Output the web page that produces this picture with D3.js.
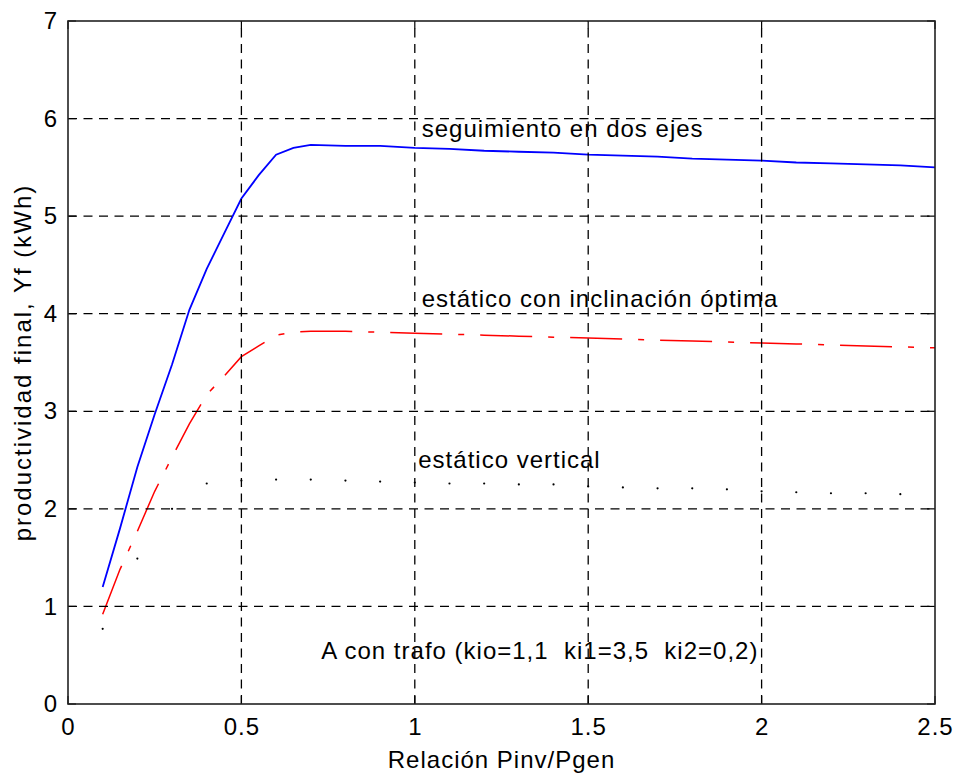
<!DOCTYPE html>
<html>
<head>
<meta charset="utf-8">
<script src="https://cdn.jsdelivr.net/npm/d3@7"></script>
<style>
  body { margin: 0; background: #fff; }
  svg { display: block; }
  text { font-family: "Liberation Sans", Arial, Helvetica, sans-serif; fill: #000; letter-spacing: 1px; }
</style>
</head>
<body>
<svg id="chart" width="956" height="775"></svg>
<script>
// relación Pinv/Pgen (x) for the two continuous curves
const relacion = [0.1, 0.15, 0.2, 0.25, 0.3, 0.35, 0.4, 0.45, 0.5, 0.55, 0.6, 0.65, 0.7,
  0.8, 0.9, 1.0, 1.1, 1.2, 1.3, 1.4, 1.5, 1.6, 1.7, 1.8, 1.9, 2.0, 2.1, 2.2, 2.3, 2.4, 2.5];
// seguimiento en dos ejes (blue)
const dosEjes = [1.2, 1.8, 2.43, 2.97, 3.48, 4.04, 4.46, 4.82, 5.18, 5.42, 5.63, 5.70, 5.73,
  5.72, 5.72, 5.70, 5.69, 5.67, 5.66, 5.65, 5.63, 5.62, 5.61, 5.59, 5.58, 5.57, 5.55, 5.54, 5.53, 5.52, 5.50];
// estático con inclinación óptima (red, dash-dot)
const inclOptima = [0.92, 1.38, 1.77, 2.18, 2.53, 2.87, 3.17, 3.36, 3.56, 3.67, 3.78, 3.81, 3.82,
  3.82, 3.81, 3.80, 3.79, 3.78, 3.77, 3.76, 3.75, 3.74, 3.73, 3.72, 3.71, 3.70, 3.69, 3.68, 3.67, 3.66, 3.65];
// estático vertical (black dots)
const relacionVert = [0.1, 0.2, 0.3, 0.4, 0.5, 0.6, 0.7, 0.8, 0.9, 1.0, 1.1, 1.2, 1.3, 1.4,
  1.5, 1.6, 1.7, 1.8, 1.9, 2.0, 2.1, 2.2, 2.3, 2.4];
const vertical = [0.77, 1.49, 2.0, 2.26, 2.29, 2.30, 2.30, 2.29, 2.28, 2.27, 2.26, 2.26, 2.25, 2.25,
  2.23, 2.22, 2.21, 2.21, 2.20, 2.18, 2.17, 2.16, 2.16, 2.15];

const xTicks = [0, 0.5, 1, 1.5, 2, 2.5];
const yTicks = [0, 1, 2, 3, 4, 5, 6, 7];

const notes = ["seguimiento en dos ejes", "estático con inclinación óptima", "estático vertical",
  "A con trafo (kio=1,1  ki1=3,5  ki2=0,2)"];
const noteX = [1.02, 1.02, 1.01, 0.73];
const noteY = [5.9, 4.16, 2.5, 0.55];

const svg = d3.select("#chart");
const x = d3.scaleLinear().domain([0, 2.5]).range([68, 935]);
const y = d3.scaleLinear().domain([0, 7]).range([704, 21]);

const line = d3.line().x(d => x(d[0])).y(d => y(d[1]));

// data
svg.append("path")
  .datum(relacion.map((v, i) => [v, dosEjes[i]]))
  .attr("fill", "none").attr("stroke", "#0000ff").attr("stroke-width", 1.8)
  .attr("d", line);

svg.append("path")
  .datum(relacion.map((v, i) => [v, inclOptima[i]]))
  .attr("fill", "none").attr("stroke", "#ff0000").attr("stroke-width", 1.5)
  .attr("stroke-dasharray", "52,16,6,16")
  .attr("d", line);

svg.append("g").selectAll("circle")
  .data(relacionVert.map((v, i) => [v, vertical[i]]))
  .join("circle")
  .attr("cx", d => x(d[0])).attr("cy", d => y(d[1]))
  .attr("r", 1.1).attr("fill", "#000");

// annotations
svg.append("g").selectAll("text")
  .data(notes)
  .join("text")
  .attr("x", (d, i) => x(noteX[i]))
  .attr("y", (d, i) => y(noteY[i]))
  .attr("dy", "0.35em")
  .attr("font-size", 24)
  .style("white-space", "pre")
  .text(d => d);

// grid (drawn over the data, like the original)
const grid = svg.append("g").attr("stroke", "#000").attr("stroke-width", 1.3)
  .attr("stroke-dasharray", "9,6.5");
grid.selectAll(".gx").data(xTicks.slice(1, -1)).join("line")
  .attr("x1", d => x(d)).attr("x2", d => x(d))
  .attr("y1", y(0)).attr("y2", y(7));
grid.selectAll(".gy").data(yTicks.slice(1, -1)).join("line")
  .attr("y1", d => y(d)).attr("y2", d => y(d))
  .attr("x1", x(0)).attr("x2", x(2.5));

// axes
const ax = d3.axisBottom(x).tickValues(xTicks).tickFormat(d3.format("")).tickSize(0).tickPadding(14);
const gx = svg.append("g").attr("transform", `translate(0,${y(0)})`).call(ax);
gx.select(".domain").remove();
gx.selectAll("text").attr("font-size", 24).attr("fill", "#000").attr("font-family", null);

const ay = d3.axisLeft(y).tickValues(yTicks).tickFormat(d3.format("d")).tickSize(0).tickPadding(10);
const gy = svg.append("g").attr("transform", `translate(${x(0)},0)`).call(ay);
gy.select(".domain").remove();
gy.selectAll("text").attr("font-size", 24).attr("fill", "#000").attr("font-family", null);

// inner ticks on all four sides
const tk = svg.append("g").attr("stroke", "#000").attr("stroke-width", 1.2);
xTicks.forEach(t => {
  tk.append("line").attr("x1", x(t)).attr("x2", x(t)).attr("y1", y(0)).attr("y2", y(0) - 8);
  tk.append("line").attr("x1", x(t)).attr("x2", x(t)).attr("y1", y(7)).attr("y2", y(7) + 8);
});
yTicks.forEach(t => {
  tk.append("line").attr("y1", y(t)).attr("y2", y(t)).attr("x1", x(0)).attr("x2", x(0) + 8);
  tk.append("line").attr("y1", y(t)).attr("y2", y(t)).attr("x1", x(2.5)).attr("x2", x(2.5) - 8);
});

// box
svg.append("rect")
  .attr("x", x(0)).attr("y", y(7))
  .attr("width", x(2.5) - x(0)).attr("height", y(0) - y(7))
  .attr("fill", "none").attr("stroke", "#222").attr("stroke-width", 1.6);

// axis titles
svg.append("text")
  .attr("x", (x(0) + x(2.5)) / 2).attr("y", 768)
  .attr("text-anchor", "middle").attr("font-size", 24)
  .text("Relación Pinv/Pgen");

svg.append("text")
  .attr("transform", `translate(31,${(y(0) + y(7)) / 2}) rotate(-90)`)
  .attr("text-anchor", "middle").attr("font-size", 24)
  .style("letter-spacing", "2px")
  .text("productividad final, Yf (kWh)");
</script>
</body>
</html>
